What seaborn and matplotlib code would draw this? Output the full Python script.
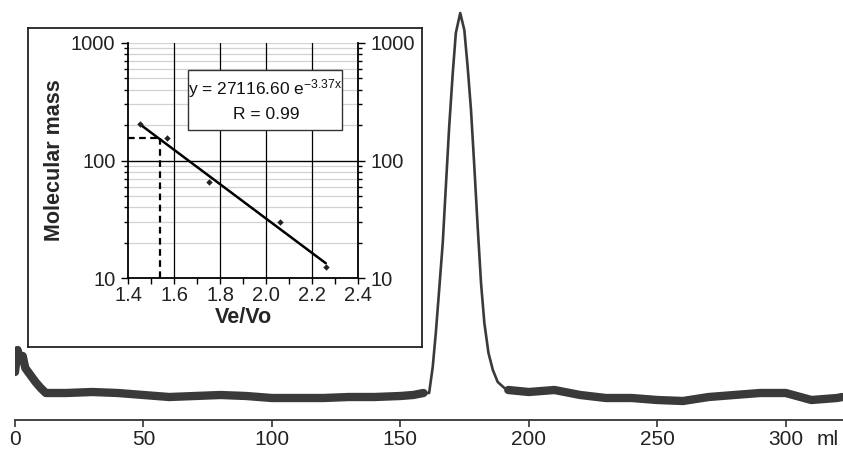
import numpy as np
import pandas as pd
import matplotlib
matplotlib.use("Agg")
import matplotlib.pyplot as plt
import seaborn as sns
from matplotlib.ticker import LogLocator, FixedLocator, NullFormatter

# Chromatogram trace (elution volume in ml, absorbance in arbitrary units)
trace_ml = [0, 1, 2, 3, 4, 6, 8, 10, 12, 20, 30, 40, 50, 60, 70, 80, 90, 100,
            110, 120, 130, 140, 150, 155, 159,
            161.2, 162.6, 163.8, 165.1, 166.5, 167.7, 169.0, 170.4, 171.6, 173.3,
            174.9, 176.2, 177.5, 178.8, 180.1, 181.4, 182.7, 184.3, 186.0, 187.9, 190.5,
            192, 200, 210, 220, 230, 240, 250, 260, 270, 280, 290, 300, 310, 320, 322]
trace_abs = [0.048, 0.070, 0.060, 0.064, 0.052, 0.045, 0.038, 0.032, 0.027, 0.027, 0.028,
             0.027, 0.025, 0.023, 0.024, 0.025, 0.024, 0.022, 0.022, 0.022, 0.023, 0.023,
             0.024, 0.025, 0.027,
             0.027, 0.053, 0.087, 0.130, 0.177, 0.233, 0.293, 0.347, 0.387, 0.407,
             0.390, 0.353, 0.310, 0.253, 0.193, 0.137, 0.097, 0.067, 0.050, 0.038, 0.032,
             0.030, 0.028, 0.030, 0.025, 0.022, 0.022, 0.020, 0.019, 0.023, 0.025, 0.027,
             0.027, 0.020, 0.022, 0.023]
peak_window = (160.0, 191.0)

# Calibration standards (inset)
std_vevo = [1.45, 1.57, 1.75, 2.06, 2.26]
std_mass = [205, 155, 66, 30, 12.5]
fit_a = 27116.60
fit_b = -3.37
sample_vevo = 1.54
sample_mass = 155

xticks_main = [0, 50, 100, 150, 200, 250, 300]
unit_pos = 316.5
xticks_inset = [1.4, 1.6, 1.8, 2.0, 2.2, 2.4]
yticks_inset = [10, 100, 1000]

sns.set_theme(style="white")
plt.rcParams['font.family'] = ['Liberation Sans', 'DejaVu Sans']
plt.rcParams['mathtext.fontset'] = 'custom'
plt.rcParams['mathtext.rm'] = 'Liberation Sans'
plt.rcParams['mathtext.it'] = 'Liberation Sans'

df = pd.DataFrame({"ml": trace_ml, "abs": trace_abs})
df["band"] = ~df["ml"].between(*peak_window)

fig = plt.figure(figsize=(8.43, 4.5), dpi=100)
ax = fig.add_axes([15 / 843, 30 / 450, 1 - 15 / 843, 420 / 450])

trace_color = "#3a3a3a"
sns.lineplot(data=df, x="ml", y="abs", ax=ax, color=trace_color, lw=1.9)
# noisy baseline drawn as a broad band
base = df.copy()
base.loc[~base["band"], "abs"] = np.nan
ax.plot(base["ml"], base["abs"], color=trace_color, lw=6.0, solid_capstyle="round")

ax.set_xlim(0, 322.3)
ax.set_ylim(0, 0.42)
ax.set_yticks([])
# unit label "ml" sits in the tick label row, without a tick mark
ax.set_xticks(xticks_main + [unit_pos])
ax.set_xticklabels([str(t) for t in xticks_main] + ["ml"], fontsize=15, color="#222222")
ax.tick_params(axis="x", direction="out", length=5, width=1.2, color="#333333", pad=2,
               bottom=True)
ax.xaxis.get_major_ticks()[-1].tick1line.set_visible(False)
for side in ["left", "top", "right"]:
    ax.spines[side].set_visible(False)
ax.spines["bottom"].set_color("#333333")
ax.spines["bottom"].set_linewidth(1.3)
ax.set_xlabel("")
ax.set_ylabel("")

# inset frame
frame = fig.add_axes([28 / 843, 1 - 347 / 450, (422 - 28) / 843, (347 - 28) / 450])
frame.set_facecolor("white")
frame.set_xticks([])
frame.set_yticks([])
for s in frame.spines.values():
    s.set_color("#222222")
    s.set_linewidth(1.3)
    s.set_visible(True)

# inset calibration plot
ins = fig.add_axes([128 / 843, 1 - 278 / 450, 230 / 843, 235 / 450])
ins.set_facecolor("white")
ins.set_yscale("log")
ins.set_xlim(1.4, 2.4)
ins.set_ylim(10, 1000)

ins.yaxis.set_minor_locator(LogLocator(base=10, subs=np.arange(2, 10)))
ins.yaxis.set_minor_formatter(NullFormatter())
ins.grid(True, which="minor", axis="y", color="#d2d2d2", lw=0.9)
ins.axhline(1000, color="#d2d2d2", lw=0.9)
ins.axhline(100, color="black", lw=1.0)
for xv in xticks_inset[1:-1]:
    ins.axvline(xv, color="black", lw=0.9)

fit_x = np.array([min(std_vevo), max(std_vevo)])
fit_y = fit_a * np.exp(fit_b * fit_x)
sns.lineplot(x=fit_x, y=fit_y, ax=ins, color="black", lw=1.8)
sns.scatterplot(x=std_vevo, y=std_mass, ax=ins, marker="D", s=9, color="#222222",
                edgecolor="#222222", zorder=5)
ins.plot([1.4, sample_vevo], [sample_mass, sample_mass], color="black", lw=1.6,
         dashes=(3, 2))
ins.plot([sample_vevo, sample_vevo], [sample_mass, 10], color="black", lw=1.6,
         dashes=(3, 2))

ins.set_xticks(xticks_inset)
ins.set_xticklabels([f"{t:.1f}" for t in xticks_inset], fontsize=14.5, color="#222222")
ins.xaxis.set_minor_locator(FixedLocator(np.arange(1.5, 2.4, 0.2)))
ins.set_yticks(yticks_inset)
ins.set_yticklabels([str(t) for t in yticks_inset], fontsize=14.5, color="#222222")
ins.tick_params(axis="y", which="both", left=True, right=True, labelleft=True,
                labelright=True, direction="out", color="black", width=1.0)
ins.tick_params(axis="y", which="major", length=5, pad=4)
ins.tick_params(axis="y", which="minor", length=3)
ins.tick_params(axis="x", which="both", bottom=True, direction="out", color="black",
                width=1.0, length=4, pad=2)
for side in ["left", "right", "bottom"]:
    ins.spines[side].set_color("black")
    ins.spines[side].set_linewidth(1.3)
ins.spines["top"].set_visible(False)
ins.set_xlabel("Ve/Vo", fontsize=15.5, fontweight="bold", labelpad=1)
ins.set_ylabel("Molecular mass", fontsize=15.5, fontweight="bold", labelpad=4)

# equation box
box = plt.Rectangle((0.261, 0.630), 0.669, 0.255, transform=ins.transAxes,
                    facecolor="white", edgecolor="#333333", lw=1.0, zorder=6)
ins.add_patch(box)
ins.text(0.595, 0.807, r"y = 27116.60 e$^{\mathrm{-3.37x}}$", transform=ins.transAxes,
         ha="center", va="center", fontsize=12.5, color="#111111", zorder=7)
ins.text(0.60, 0.694, "R = 0.99", transform=ins.transAxes,
         ha="center", va="center", fontsize=12.5, color="#111111", zorder=7)

fig.savefig("out.png", dpi=100)
